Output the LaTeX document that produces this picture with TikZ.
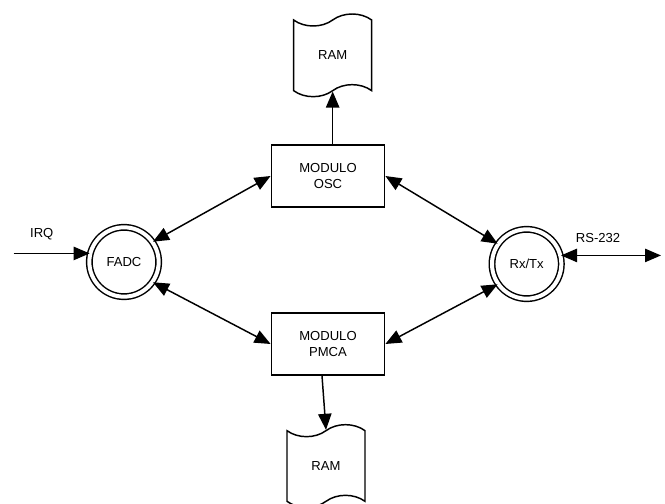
\documentclass[tikz,border=0pt]{standalone}
\usepackage{fontspec}
\setmainfont{Liberation Sans}
\usetikzlibrary{arrows.meta,calc,shapes.symbols}
\tikzset{
    block/.style = {draw, rectangle,
        minimum height=46.5pt,
        minimum width=85pt, align=center},
    station/.style = {draw, circle, double, double distance=3pt, minimum size=52pt},
    memory/.style = {draw, tape, tape bend top=in and out, tape bend bottom=in and out,
        tape bend height=9pt, minimum width=58.5pt, minimum height=62pt},
    link/.style = {draw, <->}
}

\begin{document}
\begin{tikzpicture}[auto, node distance=1.5cm, >={Triangle[length=12pt,width=10pt]}, line width=1.1pt, font=\fontsize{9.8}{12.5}\selectfont]
        \useasboundingbox (0,0) rectangle (498.75pt,378pt);
        \node [block] (osc) at (246pt,246pt) {MODULO\\OSC};
        \node [block, below of=osc, node distance=126pt] (pmca) {MODULO\\PMCA};
        \node [station] (fadc) at ($(osc)!.5!(pmca)+(-153pt,-1.5pt)$) {FADC};
        \node [station] (rxtx) at ($(osc)!.5!(pmca)+(149pt,-3pt)$) {Rx/Tx};
        \node [memory, above of=osc, node distance=90.5pt, xshift=3.5pt] (ramosc) {RAM};
        \node [memory, below of=pmca, node distance=91.5pt, xshift=-1.5pt] (rampmca) {RAM};
        \coordinate (irq) at ($(fadc.166)-(57pt,0)$);
        \coordinate (rs) at ($(rxtx.14)+(75pt,0)$);
        \draw [->] (irq) -- node[pos=.37, above=6pt] {IRQ} (fadc.166);
        \draw [link] (rxtx.14) -- node[pos=.37, above=6pt] {RS-232} (rs);
        \draw [link] (fadc.35) -- (osc.west);
        \draw [link] (fadc.-35) -- (pmca.west);
        \draw [link] (osc.east) -- (rxtx.145);
        \draw [link] (pmca.east) -- (rxtx.-145);
        \draw [->] (osc.north -| ramosc) -- (ramosc.south);
        \draw [->] ([xshift=-4.5pt]pmca.south) -- (rampmca.north);
    \end{tikzpicture}
\end{document}
